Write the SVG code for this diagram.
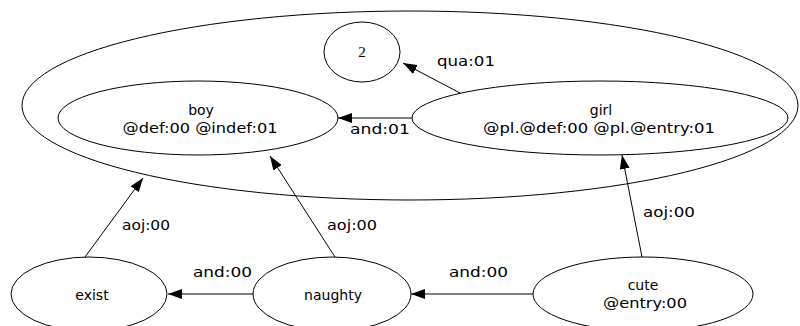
<svg xmlns="http://www.w3.org/2000/svg" width="800" height="326" viewBox="0 0 800 326">
<style>
.n{fill:none;stroke:#000;stroke-width:1}
.t{font-family:"DejaVu Sans","Liberation Sans",sans-serif;font-size:14px;fill:#000;text-anchor:middle}
.l{font-family:"DejaVu Sans","Liberation Sans",sans-serif;font-size:14px;fill:#000}
.e{stroke:#000;stroke-width:1;fill:none;marker-end:url(#ah)}
</style>
<defs>
<marker id="ah" viewBox="0 0 14 10" refX="14" refY="5" markerWidth="14" markerHeight="10" markerUnits="userSpaceOnUse" orient="auto">
<path d="M0,0 L14,5 L0,10 Z" fill="#000"/>
</marker>
</defs>
<rect width="800" height="326" fill="#fff"/>
<g id="scope">
<ellipse class="n" cx="410" cy="105.5" rx="388" ry="94.5"/>
</g>
<g id="node-2">
<ellipse class="n" cx="362" cy="52" rx="38" ry="30"/>
<text x="362" y="57" font-family="'Liberation Serif',serif" font-size="15" text-anchor="middle">2</text>
</g>
<g id="node-boy">
<ellipse class="n" cx="198" cy="118" rx="140" ry="37"/>
<text class="t" x="201" y="115">boy</text>
<text class="t" x="200" y="133" textLength="155" lengthAdjust="spacingAndGlyphs">@def:00 @indef:01</text>
</g>
<g id="node-girl">
<ellipse class="n" cx="600" cy="118" rx="188" ry="37"/>
<text class="t" x="601" y="115">girl</text>
<text class="t" x="599" y="133" textLength="232" lengthAdjust="spacingAndGlyphs">@pl.@def:00 @pl.@entry:01</text>
</g>
<g id="node-exist">
<ellipse class="n" cx="89" cy="294" rx="78" ry="37"/>
<text class="t" x="92" y="300">exist</text>
</g>
<g id="node-naughty">
<ellipse class="n" cx="332" cy="294" rx="79" ry="37"/>
<text class="t" x="333" y="300">naughty</text>
</g>
<g id="node-cute">
<ellipse class="n" cx="643" cy="294" rx="110" ry="37"/>
<text class="t" x="643" y="290">cute</text>
<text class="t" x="645" y="308" textLength="84" lengthAdjust="spacingAndGlyphs">@entry:00</text>
</g>
<g id="connectors">
<line class="e" x1="412" y1="118" x2="338" y2="118"/>
<line class="e" x1="460" y1="93" x2="403" y2="63"/>
<line class="e" x1="85" y1="257" x2="143" y2="178"/>
<line class="e" x1="335" y1="257" x2="270" y2="156"/>
<line class="e" x1="642" y1="257" x2="622" y2="155"/>
<line class="e" x1="253" y1="294" x2="168" y2="294"/>
<line class="e" x1="533" y1="294" x2="411" y2="294"/>
<text class="l" x="350" y="134" textLength="60" lengthAdjust="spacingAndGlyphs">and:01</text>
<text class="l" x="437" y="66" textLength="58" lengthAdjust="spacingAndGlyphs">qua:01</text>
<text class="l" x="122" y="230" textLength="48" lengthAdjust="spacingAndGlyphs">aoj:00</text>
<text class="l" x="327" y="230" textLength="50" lengthAdjust="spacingAndGlyphs">aoj:00</text>
<text class="l" x="643" y="217" textLength="52" lengthAdjust="spacingAndGlyphs">aoj:00</text>
<text class="l" x="193" y="277" textLength="59" lengthAdjust="spacingAndGlyphs">and:00</text>
<text class="l" x="449" y="277" textLength="59" lengthAdjust="spacingAndGlyphs">and:00</text>
</g>
</svg>
